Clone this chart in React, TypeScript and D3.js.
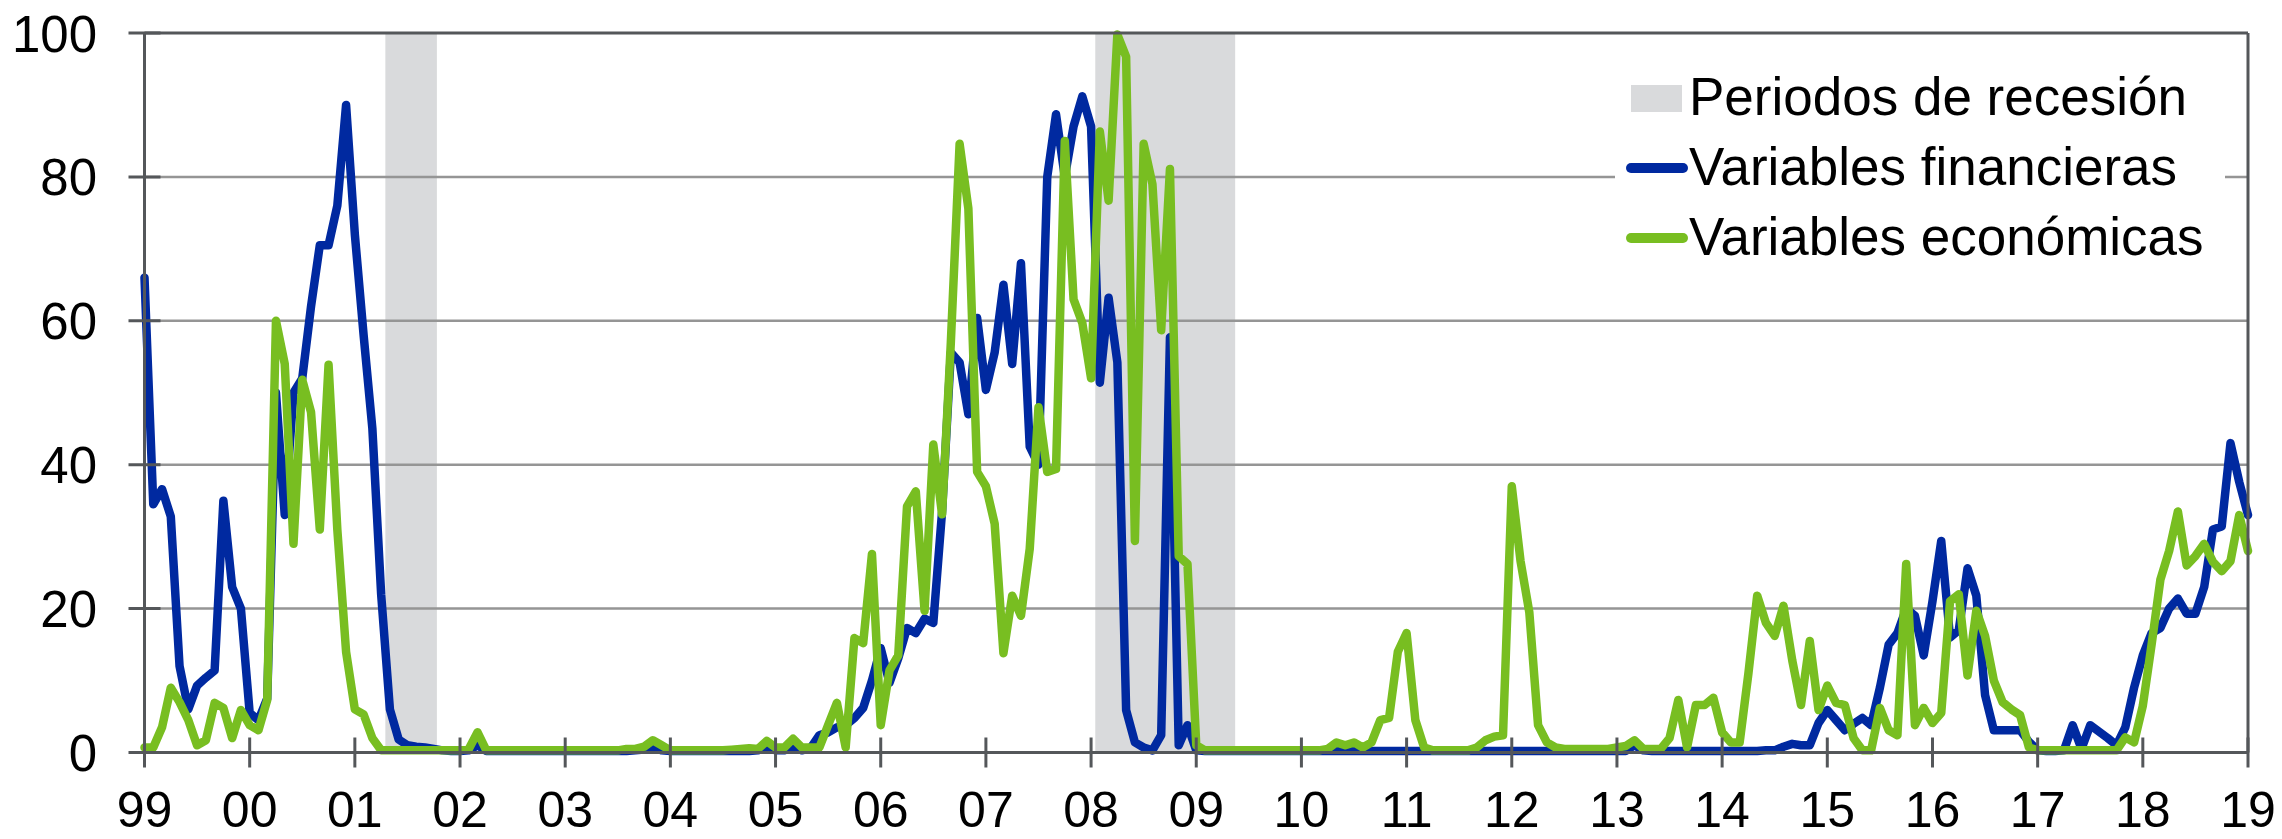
import * as d3 from 'd3';

const WIDTH = 2282;
const HEIGHT = 839;
const MARGIN = { top: 33, right: 34, bottom: 86.5, left: 144.5 };
const FONT = '"Liberation Sans", Arial, Helvetica, sans-serif';

// monthly series, first value = Jan 1999, last = Jan 2019
const START_YEAR = 1999;

const YEAR_LABELS = [
  '99', '00', '01', '02', '03', '04', '05', '06', '07', '08', '09',
  '10', '11', '12', '13', '14', '15', '16', '17', '18', '19',
];
const Y_TICKS = [0, 20, 40, 60, 80, 100];

// recession periods as decimal years
const RECESSIONS: [number, number][] = [
  [2001.29, 2001.78],
  [2008.04, 2009.37],
];

const FINANCIERAS: number[] = [
  66, 34.5, 36.6, 32.8, 12, 6, 9.3, 10.4, 11.4, 35, 23, 20, // 99
  5.5, 4.5, 7.5, 50, 33, 50, 52, 62, 70.5, 70.5, 76, 90, // 00
  72, 58, 45, 22, 6, 1.8, 1, 0.8, 0.7, 0.5, 0.3, 0.2, // 01
  0.2, 0.3, 1, 0.2, 0.2, 0.2, 0.2, 0.2, 0.2, 0.2, 0.2, 0.2, // 02
  0.2, 0.2, 0.2, 0.2, 0.2, 0.2, 0.2, 0.2, 0.3, 0.4, 0.8, 0.3, // 03
  0.2, 0.2, 0.2, 0.2, 0.2, 0.2, 0.2, 0.2, 0.2, 0.2, 0.3, 0.8, // 04
  0.3, 0.3, 0.8, 0.3, 0.6, 2.4, 2.8, 3.5, 3.8, 4.8, 6.2, 10, // 05
  14.5, 9.7, 13.1, 17.3, 16.6, 18.6, 18, 33.5, 55.6, 54.2, 47, 60.4, // 06
  50.4, 55.6, 65, 54, 68, 42.5, 40, 80, 88.7, 80, 87, 91.2, // 07
  87, 51.4, 63.2, 54.2, 5.9, 1.4, 0.7, 0.3, 2.4, 57.7, 1, 3.8, // 08
  0.3, 0.2, 0.2, 0.2, 0.2, 0.2, 0.2, 0.2, 0.2, 0.2, 0.2, 0.2, // 09
  0.2, 0.2, 0.2, 0.2, 0.2, 0.2, 0.2, 0.2, 0.2, 0.2, 0.2, 0.2, // 10
  0.2, 0.2, 0.2, 0.2, 0.2, 0.2, 0.2, 0.2, 0.2, 0.2, 0.2, 0.2, // 11
  0.2, 0.2, 0.2, 0.2, 0.2, 0.2, 0.2, 0.2, 0.2, 0.2, 0.2, 0.2, // 12
  0.2, 0.2, 1, 0.3, 0.2, 0.2, 0.2, 0.2, 0.2, 0.2, 0.2, 0.2, // 13
  0.2, 0.2, 0.2, 0.2, 0.2, 0.3, 0.3, 0.8, 1.2, 1, 1, 4.1, // 14
  5.9, 4.5, 3.1, 4, 4.8, 3.8, 9, 15, 16.6, 20, 19, 13.5, // 15
  21, 29.4, 16, 17, 25.6, 21.8, 8, 3.1, 3.1, 3.1, 3.1, 1.5, // 16
  0.3, 0.2, 0.2, 0.3, 3.8, 0.5, 3.8, 2.9, 2, 1, 3.5, 9, // 17
  13.5, 16.6, 17.3, 20, 21.4, 19.3, 19.3, 23, 31, 31.4, 43, 37.6, // 18
  33, // 19
];

const ECONOMICAS: number[] = [
  0.7, 0.7, 3.5, 9, 7, 4.5, 1, 1.7, 6.9, 6.2, 2, 5.9, // 99
  3.8, 3.1, 7.3, 60, 54, 29, 51.8, 47.3, 31, 53.9, 31, 14, // 00
  6, 5.3, 2, 0.3, 0.3, 0.3, 0.3, 0.3, 0.3, 0.3, 0.3, 0.3, // 01
  0.3, 0.5, 2.8, 0.3, 0.3, 0.3, 0.3, 0.3, 0.3, 0.3, 0.3, 0.3, // 02
  0.3, 0.3, 0.3, 0.3, 0.3, 0.3, 0.3, 0.5, 0.5, 0.8, 1.7, 1, // 03
  0.3, 0.3, 0.3, 0.3, 0.3, 0.3, 0.3, 0.4, 0.5, 0.6, 0.5, 1.6, // 04
  0.7, 0.7, 1.9, 0.7, 0.7, 0.7, 3.8, 6.9, 0.7, 15.9, 15.2, 27.6, // 05
  3.8, 11.4, 13.5, 34.2, 36.3, 19.7, 42.8, 33.1, 57, 84.6, 75.6, 39, // 06
  37, 31.8, 13.8, 21.8, 19, 28.3, 48, 39, 39.4, 85, 63, 59.7, // 07
  52, 86.3, 76.7, 99.8, 96.7, 29.4, 84.6, 79, 58.7, 81.1, 27.3, 26.2, // 08
  1, 0.3, 0.3, 0.3, 0.3, 0.3, 0.3, 0.3, 0.3, 0.3, 0.3, 0.3, // 09
  0.3, 0.3, 0.3, 0.5, 1.4, 1, 1.4, 0.7, 1.4, 4.5, 4.8, 14, // 10
  16.6, 4.5, 0.7, 0.3, 0.3, 0.3, 0.3, 0.3, 0.7, 1.7, 2.2, 2.4, // 11
  37, 26.6, 19.5, 3.8, 1.4, 0.7, 0.5, 0.5, 0.5, 0.5, 0.5, 0.5, // 12
  0.7, 0.9, 1.7, 0.5, 0.5, 0.5, 2, 7.3, 0.7, 6.6, 6.6, 7.6, // 13
  2.8, 1.4, 1.4, 11, 21.8, 18, 16.2, 20.4, 12.8, 6.6, 15.5, 5.9, // 14
  9.3, 6.9, 6.6, 2, 0.3, 0.3, 6.2, 3.1, 2.4, 26.2, 3.8, 6.2, // 15
  4.1, 5.5, 21, 22, 10.7, 19.7, 16.2, 10, 7, 6, 5.2, 0.7, // 16
  0.3, 0.3, 0.3, 0.3, 0.3, 0.3, 0.3, 0.3, 0.3, 0.3, 2.1, 1.4, // 17
  6.5, 15, 24, 28, 33.5, 26, 27.3, 29, 26.5, 25.2, 26.6, 33, // 18
  28, // 19
];

const LEGEND_LABELS = ['Periodos de recesión', 'Variables financieras', 'Variables económicas'];

const COLORS = {
  fin: '#0029a0',
  eco: '#78be21',
  recession: '#d9dadc',
  grid: '#959595',
  axis: '#54575a',
};

export default function App() {
  const x = d3
    .scaleLinear()
    .domain([START_YEAR, START_YEAR + YEAR_LABELS.length - 1])
    .range([MARGIN.left, WIDTH - MARGIN.right]);
  const y = d3
    .scaleLinear()
    .domain([0, 100])
    .range([HEIGHT - MARGIN.bottom, MARGIN.top]);

  const line = d3
    .line<number>()
    .x((_, i) => x(START_YEAR + i / 12))
    .y((d) => y(d));

  const [left, right] = x.range();
  const [bottom, top] = y.range();

  const legendX = 1631;
  const legendRows = [98, 168, 238];

  return (
    <svg
      width={WIDTH}
      height={HEIGHT}
      viewBox={`0 0 ${WIDTH} ${HEIGHT}`}
      style={{ position: 'absolute', left: 0, top: 0, display: 'block', background: '#fff' }}
      fontFamily={FONT}
    >
      <rect x={0} y={0} width={WIDTH} height={HEIGHT} fill="#ffffff" />

      {RECESSIONS.map(([a, b], i) => (
        <rect
          key={`rec-${i}`}
          x={x(a)}
          y={top}
          width={x(b) - x(a)}
          height={bottom - top}
          fill={COLORS.recession}
        />
      ))}

      {Y_TICKS.filter((t) => t > 0 && t < 100).map((t) => (
        <line
          key={`grid-${t}`}
          x1={left}
          x2={right}
          y1={y(t)}
          y2={y(t)}
          stroke={COLORS.grid}
          strokeWidth={2.5}
        />
      ))}

      <path
        d={line(FINANCIERAS) ?? ''}
        fill="none"
        stroke={COLORS.fin}
        strokeWidth={8.5}
        strokeLinejoin="round"
        strokeLinecap="round"
      />
      <path
        d={line(ECONOMICAS) ?? ''}
        fill="none"
        stroke={COLORS.eco}
        strokeWidth={8.5}
        strokeLinejoin="round"
        strokeLinecap="round"
      />

      {/* frame */}
      <line x1={left} x2={right} y1={top} y2={top} stroke={COLORS.axis} strokeWidth={3} />
      <line x1={right} x2={right} y1={top} y2={bottom} stroke={COLORS.axis} strokeWidth={3} />
      <line x1={left} x2={left} y1={top} y2={bottom} stroke={COLORS.axis} strokeWidth={3} />
      <line x1={left} x2={right} y1={bottom} y2={bottom} stroke={COLORS.axis} strokeWidth={3} />

      {Y_TICKS.map((t) => (
        <g key={`yt-${t}`}>
          <line x1={left - 16} x2={left + 16} y1={y(t)} y2={y(t)} stroke={COLORS.axis} strokeWidth={3} />
          <text x={97} y={y(t) + 18.5} textAnchor="end" fontSize={51} fill="#000">
            {t}
          </text>
        </g>
      ))}

      {YEAR_LABELS.map((label, i) => {
        const xp = x(START_YEAR + i);
        return (
          <g key={`xt-${label}`}>
            <line x1={xp} x2={xp} y1={bottom - 15} y2={bottom + 15} stroke={COLORS.axis} strokeWidth={3} />
            <text x={xp} y={827} textAnchor="middle" fontSize={50} fill="#000">
              {label}
            </text>
          </g>
        );
      })}

      {/* legend */}
      <rect x={1615} y={58} width={610} height={220} fill="#ffffff" />
      <rect x={legendX} y={85} width={51} height={27} fill={COLORS.recession} />
      <line
        x1={legendX}
        x2={legendX + 52}
        y1={legendRows[1]}
        y2={legendRows[1]}
        stroke={COLORS.fin}
        strokeWidth={10}
        strokeLinecap="round"
      />
      <line
        x1={legendX}
        x2={legendX + 52}
        y1={legendRows[2]}
        y2={legendRows[2]}
        stroke={COLORS.eco}
        strokeWidth={10}
        strokeLinecap="round"
      />
      {LEGEND_LABELS.map((label, i) => (
        <text key={label} x={1689} y={legendRows[i] + 17} fontSize={53} fill="#000">
          {label}
        </text>
      ))}
    </svg>
  );
}
